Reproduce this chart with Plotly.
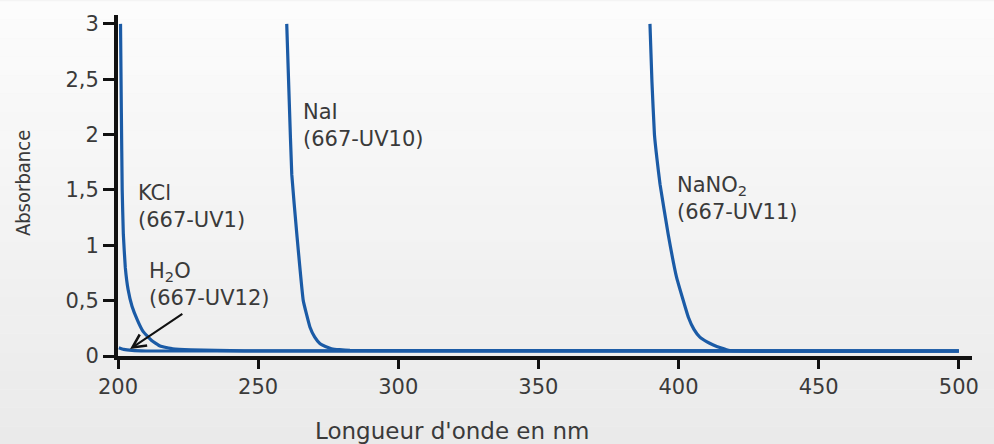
import plotly.graph_objects as go

# Absorbance spectra (wavelength in nm, absorbance)
kcl_wl = [200.9, 201.2, 201.5, 201.9, 202.6, 203.6, 205.0, 207.0, 209.0, 212.0, 215.0, 219.5, 226.0, 235.0, 245.0, 500.0]
kcl_abs = [3.0, 2.2, 1.5, 1.1, 0.8, 0.6, 0.45, 0.32, 0.22, 0.14, 0.09, 0.065, 0.055, 0.05, 0.046, 0.045]

h2o_wl = [200.3, 202.0, 205.0, 210.0, 500.0]
h2o_abs = [0.075, 0.06, 0.05, 0.045, 0.045]

nai_wl = [260.2, 261.1, 262.0, 263.8, 266.1, 268.5, 270.2, 272.1, 274.0, 276.2, 279.0, 282.8, 500.0]
nai_abs = [3.0, 2.30, 1.64, 1.10, 0.50, 0.26, 0.17, 0.11, 0.085, 0.066, 0.057, 0.05, 0.045]

nano2_wl = [389.8, 390.5, 391.4, 392.3, 393.4, 396.3, 399.3, 403.5, 405.5, 407.6, 410.0, 412.4, 415.0, 418.3, 500.0]
nano2_abs = [3.0, 2.48, 2.0, 1.78, 1.55, 1.10, 0.71, 0.35, 0.24, 0.17, 0.13, 0.10, 0.075, 0.05, 0.045]

x_ticks = [200, 250, 300, 350, 400, 450, 500]
y_ticks = [0, 0.5, 1, 1.5, 2, 2.5, 3]

LINE = "#1b5ba6"
TEXT = "#3a3a3a"
FONT = "DejaVu Sans"

fig = go.Figure()
for wl, ab, name in [
    (h2o_wl, h2o_abs, "H2O"),
    (kcl_wl, kcl_abs, "KCl"),
    (nai_wl, nai_abs, "NaI"),
    (nano2_wl, nano2_abs, "NaNO2"),
]:
    fig.add_trace(go.Scatter(
        x=wl, y=ab, name=name, mode="lines",
        line=dict(color=LINE, width=3.2, shape="spline", smoothing=0.3),
        hoverinfo="skip", showlegend=False,
    ))

# soft vertical gradient behind the chart
shapes = []
n_bands = 24
top_c, bot_c = (252, 252, 252), (234, 234, 234)
y_top, y_bot = 1.04, -0.26
for i in range(n_bands):
    t = i / (n_bands - 1)
    c = tuple(round(top_c[k] + (bot_c[k] - top_c[k]) * t) for k in range(3))
    y1 = y_top - (y_top - y_bot) * i / n_bands
    y0 = y_top - (y_top - y_bot) * (i + 1) / n_bands
    shapes.append(dict(
        type="rect", xref="paper", yref="paper", x0=-0.2, x1=1.1, y0=y0, y1=y1,
        fillcolor="rgb(%d,%d,%d)" % c, line=dict(width=0), layer="below",
    ))

label_font = dict(family=FONT, size=21, color=TEXT)
annotations = [
    dict(x=206.4, y=1.347, text="KCl<br>(667-UV1)"),
    dict(x=210.3, y=0.647, text="H<sub>2</sub>O<br>(667-UV12)"),
    dict(x=265.4, y=2.08, text="NaI<br>(667-UV10)"),
    dict(x=398.8, y=1.424, text="NaNO<sub>2</sub><br>(667-UV11)"),
]
for a in annotations:
    a.update(xref="x", yref="y", xanchor="left", yanchor="middle",
             align="left", showarrow=False, font=label_font)

# arrow pointing at the water baseline
annotations.append(dict(
    x=204.3, y=0.063, ax=223.5, ay=0.39, xref="x", yref="y", axref="x", ayref="y",
    text="", showarrow=True, arrowhead=5, arrowsize=1.3, arrowwidth=2,
    arrowcolor="#111111",
))

# axis titles
annotations.append(dict(
    x=-0.112, y=0.508, xref="paper", yref="paper", text="Absorbance",
    textangle=-90, showarrow=False, xanchor="center", yanchor="middle",
    font=dict(family="DejaVu Sans Condensed, DejaVu Sans", size=20, color=TEXT),
))
annotations.append(dict(
    x=0.391, y=-0.221, xref="paper", yref="paper", text="Longueur d'onde en nm",
    showarrow=False, xanchor="center", yanchor="middle",
    font=dict(family=FONT, size=23, color=TEXT),
))

fig.update_layout(
    width=994, height=444,
    margin=dict(l=118, r=22, t=12, b=88),
    paper_bgcolor="#f4f4f4", plot_bgcolor="rgba(0,0,0,0)",
    separators=", ",
    shapes=shapes, annotations=annotations,
    xaxis=dict(
        range=[200, 504.7], tickvals=x_ticks, showgrid=False, zeroline=False,
        showline=True, linecolor="#111111", linewidth=4,
        ticks="outside", ticklen=9, tickwidth=3, tickcolor="#111111",
        tickfont=dict(family=FONT, size=21, color=TEXT),
    ),
    yaxis=dict(
        range=[0, 3.08], tickvals=y_ticks, showgrid=False, zeroline=False,
        showline=True, linecolor="#111111", linewidth=4,
        ticks="outside", ticklen=11, tickwidth=3, tickcolor="#111111",
        tickfont=dict(family=FONT, size=21, color=TEXT),
    ),
)

fig.write_html("out.html")
